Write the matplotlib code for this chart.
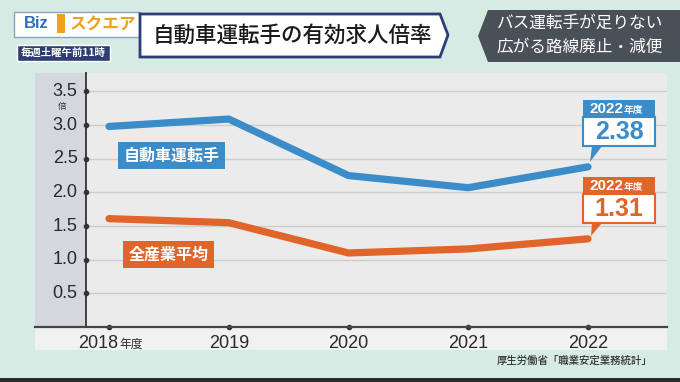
import numpy as np
import matplotlib.pyplot as plt
from matplotlib.patches import Rectangle, Polygon

plt.rcParams['font.family'] = ['Noto Sans CJK JP', 'DejaVu Sans']

# data
years = [2018, 2019, 2020, 2021, 2022]
year_labels = ['2018', '2019', '2020', '2021', '2022']
driver = [2.98, 3.09, 2.25, 2.07, 2.38]
all_industry = [1.61, 1.55, 1.10, 1.16, 1.31]
yticks = [0.5, 1.0, 1.5, 2.0, 2.5, 3.0, 3.5]

BLUE = '#3b8cc8'
ORANGE = '#e0652a'
NAVY = '#2c3e73'

W, H = 680, 382


def fx(x):
    return x / W


def fy(y):
    return 1 - y / H


fig = plt.figure(figsize=(6.8, 3.82), dpi=100)
fig.patch.set_facecolor('#d6ebe4')

# bottom dark strip
fig.patches.append(Rectangle((0, 0), 1, fy(378), transform=fig.transFigure,
                             facecolor='#2a2a2a', zorder=-2))
# chart panel
fig.patches.append(Rectangle((fx(35), fy(350)), fx(632), 277 / H, transform=fig.transFigure,
                             facecolor='#f1f1f1', edgecolor='none', zorder=-2))
fig.patches.append(Rectangle((fx(35), fy(327)), fx(51), 254 / H, transform=fig.transFigure,
                             facecolor='#d5d7df', edgecolor='none', zorder=-1))

ax = fig.add_axes([fx(86), fy(327), fx(667 - 86), (327 - 73) / H])
ax.set_facecolor('#ebebeb')
x_left = 2018 - 23 / 119.75
x_right = 2018 + (667 - 109) / 119.75
ax.set_xlim(x_left, x_right)
ax.set_ylim(0, (327 - 73) / 67.3)

for v in yticks:
    ax.axhline(v, color='#cdcdcd', lw=1.0, zorder=1)

ax.plot(years, driver, color=BLUE, lw=5.2, solid_capstyle='round',
        solid_joinstyle='round', zorder=3)
ax.plot(years, all_industry, color=ORANGE, lw=5.2, solid_capstyle='round',
        solid_joinstyle='round', zorder=3)

for s in ['top', 'right', 'bottom']:
    ax.spines[s].set_visible(False)
ax.spines['left'].set_color('#333333')
ax.spines['left'].set_linewidth(1.3)
ax.set_xticks([])
ax.set_yticks([])

# y tick dots and labels
ax.plot([x_left] * len(yticks), yticks, 'o', color='#333333', ms=3, clip_on=False, zorder=5)
for v in yticks:
    ax.text(x_left - 0.07, v, f'{v:.1f}', ha='right', va='center', fontsize=13,
            family=['Liberation Sans', 'DejaVu Sans'], color='#2a2a2a')
ax.text(x_left - 0.2, 3.27, '倍', ha='center', va='center', fontsize=6, color='#333333')

# x axis line across panel
fig.add_artist(plt.Line2D([fx(35), fx(667)], [fy(327), fy(327)], transform=fig.transFigure,
                          color='#444444', lw=1.6))
ax.plot(years, [0] * len(years), 'o', color='#333333', ms=3, clip_on=False, zorder=5)
for yr, lab in zip(years[1:], year_labels[1:]):
    ax.text(yr, -0.25, lab, ha='center', va='center', fontsize=13,
            family=['Liberation Sans', 'DejaVu Sans'], color='#2a2a2a')
ax.text(2018.075, -0.25, year_labels[0], ha='right', va='center', fontsize=13,
        family=['Liberation Sans', 'DejaVu Sans'], color='#2a2a2a')
ax.text(2018.085, -0.26, '年度', ha='left', va='center', fontsize=8.5, color='#2a2a2a')

# series labels
ax.text(2018.52, 2.55, '自動車運転手', ha='center', va='center', fontsize=11.5,
        color='white', fontweight='bold',
        bbox=dict(boxstyle='square,pad=0.35', facecolor=BLUE, edgecolor='none'))
ax.text(2018.50, 1.08, '全産業平均', ha='center', va='center', fontsize=11.5,
        color='white', fontweight='bold',
        bbox=dict(boxstyle='square,pad=0.35', facecolor=ORANGE, edgecolor='none'))


# callouts for 2022
def callout(ytop, color, value, tip):
    x0, x1 = 583, 655
    fig.patches.append(Rectangle((fx(x0), fy(ytop + 17)), fx(x1 - x0), 17 / H,
                                 transform=fig.transFigure, facecolor=color, zorder=6))
    fig.patches.append(Rectangle((fx(x0), fy(ytop + 46)), fx(x1 - x0), 29 / H,
                                 transform=fig.transFigure, facecolor='white',
                                 edgecolor=color, lw=1.5, zorder=6))
    fig.patches.append(Polygon([(fx(592), fy(ytop + 46)), (fx(602), fy(ytop + 46)), (fx(tip[0]), fy(tip[1]))],
                               transform=fig.transFigure, facecolor=color, zorder=6))
    fig.text(fx(x0 + 40), fy(ytop + 9), '2022', ha='right', va='center', fontsize=11,
             family=['Liberation Sans', 'DejaVu Sans'], color='white', fontweight='bold', zorder=7)
    fig.text(fx(x0 + 41), fy(ytop + 9.5), '年度', ha='left', va='center', fontsize=7,
             color='white', fontweight='bold', zorder=7)
    fig.text(fx((x0 + x1) / 2), fy(ytop + 32), value, ha='center', va='center', fontsize=18,
             family=['Liberation Sans', 'DejaVu Sans'], color=color, fontweight='bold', zorder=7)


callout(100, BLUE, '2.38', (590, 162))
callout(177, ORANGE, '1.31', (591, 236))

# source
fig.text(fx(652), fy(361), '厚生労働省「職業安定業務統計」', ha='right', va='center',
         fontsize=7.5, color='#333333', fontweight='medium')

# header: logo
fig.patches.append(Rectangle((fx(14), fy(37)), fx(126), 25 / H, transform=fig.transFigure,
                             facecolor='white', edgecolor='#8aa3c0', lw=1, zorder=2))
fig.text(fx(24), fy(24), 'Biz', ha='left', va='center', fontsize=12, color='#2f6fc0',
         fontweight='bold', family=['Liberation Sans', 'DejaVu Sans'], zorder=3)
fig.patches.append(Rectangle((fx(57), fy(33)), fx(8), 19 / H, transform=fig.transFigure,
                             facecolor='#f0a020', edgecolor='none', zorder=3))
fig.text(fx(70), fy(24), 'スクエア', ha='left', va='center', fontsize=12, color='#f0a020',
         fontweight='bold', zorder=3)
fig.patches.append(Rectangle((fx(17), fy(61)), fx(93), 16 / H, transform=fig.transFigure,
                             facecolor=NAVY, edgecolor='white', lw=1, zorder=2))
fig.text(fx(63.5), fy(53), '毎週土曜午前11時', ha='center', va='center', fontsize=7.5,
         color='white', fontweight='bold', zorder=3)

# header: title
fig.patches.append(Polygon([(fx(140), fy(14)), (fx(440), fy(14)), (fx(448), fy(35)), (fx(440), fy(57)),
                            (fx(140), fy(57))], transform=fig.transFigure,
                           facecolor='white', edgecolor=NAVY, lw=2, zorder=2))
fig.text(fx(292), fy(36), '自動車運転手の有効求人倍率', ha='center', va='center', fontsize=15.5,
         color='#1a1a1a', fontweight='medium', zorder=3)

# header: right
fig.patches.append(Polygon([(fx(488), fy(10)), (fx(680), fy(10)), (fx(680), fy(62)), (fx(488), fy(62)),
                            (fx(478), fy(36))], transform=fig.transFigure,
                           facecolor='#4a5058', edgecolor='none', zorder=2))
fig.text(fx(580), fy(23), 'バス運転手が足りない', ha='center', va='center', fontsize=12,
         color='white', zorder=3)
fig.text(fx(580), fy(47), '広がる路線廃止・減便', ha='center', va='center', fontsize=12,
         color='white', zorder=3)

fig.savefig('out.png', dpi=100)
